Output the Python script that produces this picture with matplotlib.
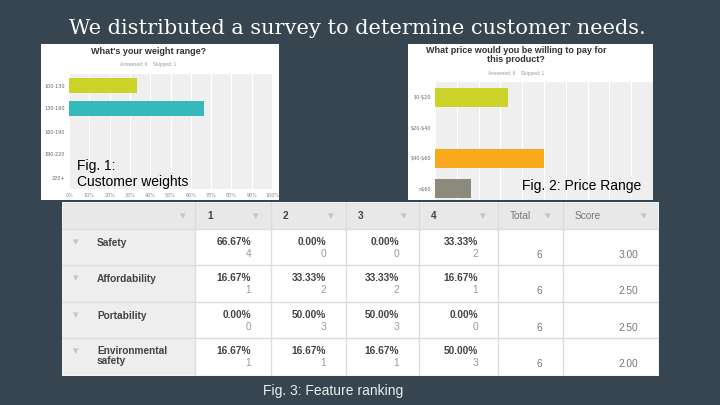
import numpy as np
import matplotlib
matplotlib.use("Agg")
import matplotlib.pyplot as plt
from matplotlib.patches import Rectangle

# --- data ---
weight_ranges = ["100-130", "130-160", "160-190", "190-220", "220+"]
weight_pct = [33.33, 66.67, 0, 0, 0]
weight_colors = ["#cbd32b", "#36b9bd", "#cbd32b", "#cbd32b", "#cbd32b"]

price_ranges = [r"\$0-\$20", r"\$20-\$40", r"\$40-\$60", r">\$60"]
price_pct = [33.33, 0, 50.00, 16.67]
price_colors = ["#cbd32b", "#36b9bd", "#f7a91e", "#8b8a7c"]

features = ["Safety", "Affordability", "Portability", "Environmental\nsafety"]
rank_counts = [[4, 0, 0, 2],
               [1, 2, 2, 1],
               [0, 3, 3, 0],
               [1, 1, 1, 3]]
totals = [6, 6, 6, 6]
scores = [3.00, 2.50, 2.50, 2.00]
col_heads = ["1", "2", "3", "4", "Total", "Score"]

BG = "#36454f"
W, H = 720, 405
fig = plt.figure(figsize=(7.2, 4.05), dpi=100, facecolor=BG)


def px_axes(x0, y0, x1, y1, **kw):
    """axes from pixel box (top-left origin)"""
    return fig.add_axes([x0 / W, 1 - y1 / H, (x1 - x0) / W, (y1 - y0) / H], **kw)


fig.text(357 / W, 1 - 29 / H, "We distributed a survey to determine customer needs.",
         color="white", fontsize=15, family="DejaVu Serif", ha="center", va="center")

# ---------- Fig 1: weight range ----------
panel = px_axes(41, 44, 279, 200)
panel.set_facecolor("white")
panel.set_xticks([]); panel.set_yticks([])
for s in panel.spines.values():
    s.set_visible(False)
panel.text(0.45, 0.95, "What's your weight range?", transform=panel.transAxes,
           ha="center", va="center", fontsize=6.5, fontweight="bold", color="#333333",
           family="Liberation Sans")
panel.text(0.45, 0.87, "Answered: 6    Skipped: 1", transform=panel.transAxes,
           ha="center", va="center", fontsize=3.5, color="#999999", family="Liberation Sans")

ax1 = px_axes(69, 74, 272, 189)
ax1.set_facecolor("#efefef")
ax1.barh(range(len(weight_ranges)), weight_pct, height=0.66, color=weight_colors, zorder=3)
ax1.set_xlim(0, 100)
ax1.set_ylim(len(weight_ranges) - 0.5, -0.5)
ax1.set_xticks(np.arange(0, 101, 10))
ax1.set_xticklabels([f"{t}%" for t in range(0, 101, 10)], fontsize=3.5, color="#888888")
ax1.set_yticks(range(len(weight_ranges)))
ax1.set_yticklabels(weight_ranges, fontsize=3.5, color="#666666")
ax1.tick_params(length=0, pad=3)
ax1.grid(axis="x", color="white", lw=0.8, zorder=1)
for s in ax1.spines.values():
    s.set_visible(False)
fig.text(77 / W, 1 - 174 / H, "Fig. 1:\nCustomer weights", fontsize=10, color="black",
         family="Liberation Sans", va="center", ha="left", linespacing=1.15)

# ---------- Fig 2: price range ----------
panel2 = px_axes(408, 44, 653, 200)
panel2.set_facecolor("white")
panel2.set_xticks([]); panel2.set_yticks([])
for s in panel2.spines.values():
    s.set_visible(False)
panel2.text(0.44, 0.93, "What price would you be willing to pay for\nthis product?",
            transform=panel2.transAxes, ha="center", va="center", fontsize=6.5,
            fontweight="bold", color="#333333", family="Liberation Sans", linespacing=1.1)
panel2.text(0.44, 0.81, "Answered: 6    Skipped: 1", transform=panel2.transAxes,
            ha="center", va="center", fontsize=3.5, color="#999999", family="Liberation Sans")

ax2 = px_axes(435, 82, 653, 200)
ax2.set_facecolor("#efefef")
ax2.barh(range(len(price_ranges)), price_pct, height=0.62, color=price_colors, zorder=3)
ax2.set_xlim(0, 100)
ax2.set_ylim(3.36, -0.49)
ax2.set_xticks(np.arange(0, 101, 10))
ax2.set_xticklabels([])
ax2.set_yticks(range(len(price_ranges)))
ax2.set_yticklabels(price_ranges, fontsize=3.5, color="#666666")
ax2.tick_params(length=0, pad=3)
ax2.grid(axis="x", color="white", lw=0.8, zorder=1)
for s in ax2.spines.values():
    s.set_visible(False)
fig.text(641 / W, 1 - 186 / H, "Fig. 2: Price Range", fontsize=10, color="black",
         family="Liberation Sans", va="center", ha="right")

# ---------- Fig 3: ranking table ----------
col_x = [62, 195, 271, 346, 419, 498, 563, 659]
row_y = [202, 229, 265, 302, 338, 376]
tab = px_axes(62, 202, 659, 376)
tab.set_xlim(62, 659)
tab.set_ylim(376, 202)
tab.axis("off")

line_c = "#dddddd"
tri = "\u25be"
font = dict(family="Liberation Sans", fontsize=7.3)
tri_kw = dict(ha="center", va="center", color="#c4c4c4", fontsize=8, family="DejaVu Sans")

# header
tab.add_patch(Rectangle((62, 202), 597, 27, facecolor="#e8e8e8", edgecolor="none"))
tab.text(183, 216, tri, **tri_kw)
for j, head in enumerate(col_heads):
    x0, x1 = col_x[j + 1], col_x[j + 2]
    bold = head.isdigit()
    tab.text(x0 + 12, 216, head, ha="left", va="center", color="#444444" if bold else "#777777",
             fontweight="bold" if bold else "normal", **font)
    tab.text(x1 - 15, 216, tri, **tri_kw)

# body rows
for i, feat in enumerate(features):
    top, bot = row_y[i + 1], row_y[i + 2]
    tab.add_patch(Rectangle((62, top), col_x[1] - 62, bot - top, facecolor="#eeeeee",
                            edgecolor="none"))
    tab.add_patch(Rectangle((col_x[1], top), 659 - col_x[1], bot - top, facecolor="white",
                            edgecolor="none"))
    tab.text(76, top + 13, tri, **tri_kw)
    tab.text(97, top + 14 if "\n" not in feat else top + 18, feat, ha="left", va="center",
             color="#444444", fontweight="bold", linespacing=1.05, **font)
    for j, cnt in enumerate(rank_counts[i]):
        xr = col_x[j + 2] - 20
        tab.text(xr, top + 13, f"{cnt / totals[i] * 100:.2f}%", ha="right", va="center",
                 color="#444444", fontweight="bold", **font)
        tab.text(xr, top + 25, str(cnt), ha="right", va="center", color="#999999", **font)
    tab.text(539, top + 26, str(totals[i]), ha="center", va="center", color="#777777", **font)
    tab.text(638, top + 26, f"{scores[i]:.2f}", ha="right", va="center", color="#777777", **font)

# grid lines
for y in row_y[1:-1]:
    tab.plot([62, 659], [y, y], color=line_c, lw=1)
for x in col_x[1:-1]:
    tab.plot([x, x], [202, 376], color=line_c, lw=1)
tab.add_patch(Rectangle((62, 202), 597, 174, facecolor="none", edgecolor="#f4f4f4", lw=1.5))

fig.text(333 / W, 1 - 391 / H, "Fig. 3: Feature ranking", fontsize=10, color="#eeeeee",
         family="Liberation Sans", ha="center", va="center")

fig.savefig("out.png", dpi=100, facecolor=BG)
